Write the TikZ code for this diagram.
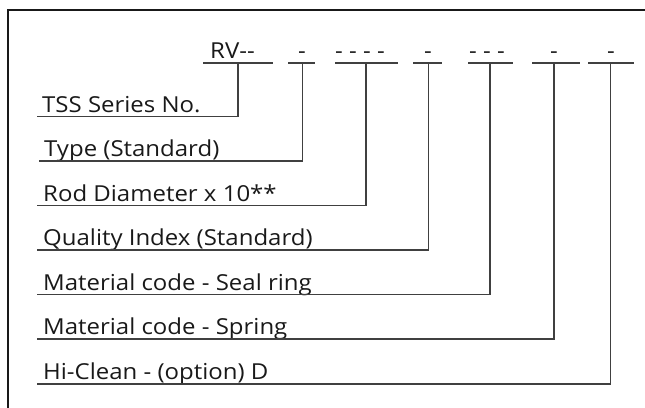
\documentclass[tikz,border=0pt]{standalone}
\usepackage{fontspec}
\setmainfont{Open Sans}[FakeStretch=1.09]
\begin{document}
\begin{tikzpicture}[x=1pt,y=-1pt,
  frame/.style={line width=2.4pt,draw=black!90},
  thin/.style={line width=1.1pt,draw=black!75},
  lab/.style={anchor=base west,inner sep=0pt,font=\fontsize{22}{24}\selectfont,text=black!90},
  code/.style={anchor=base west,inner sep=0pt,font=\fontsize{22}{24}\selectfont,text=black!90},
  codec/.style={code,anchor=base}]
\useasboundingbox (0,0) rectangle (645,407);
\draw[frame] (646,10) -| (8,408);
% code segments
\coordinate (s1a) at (203,63); \coordinate (s1b) at (273,63);
\coordinate (s2a) at (288,63); \coordinate (s2b) at (315,63);
\coordinate (s3a) at (335,63); \coordinate (s3b) at (398,63);
\coordinate (s4a) at (413,63); \coordinate (s4b) at (442,63);
\coordinate (s5a) at (468,63); \coordinate (s5b) at (513,63);
\coordinate (s6a) at (532,63); \coordinate (s6b) at (580,63);
\coordinate (s7a) at (588,63); \coordinate (s7b) at (634,63);
\foreach \i in {1,...,7} \draw[thin] (s\i a) -- (s\i b);
\node[code] (k1) at (210,58) {RV{-}{-}};
\node[codec] (k2) at (302,58) {-};
\node[code] (k3) at (335,58) {- - - -};
\node[codec] (k4) at (428,58) {-};
\node[code] (k5) at (469,58) {- - -};
\node[codec] (k6) at (554,58) {-};
\node[codec] (k7) at (611,58) {-};
% drop points
\coordinate (d1) at (238,63);
\coordinate (d2) at (302.5,63);
\coordinate (d3) at (366,63);
\coordinate (d4) at (428.5,63);
\coordinate (d5) at (490,63);
\coordinate (d6) at (554,63);
\coordinate (d7) at (610.5,63);
% labels
\node[lab] (l1) at (42,112) {TSS Series No.};
\node[lab] (l2) at (44,156.5) {Type (Standard)};
\node[lab] (l3) at (43,201) {Rod Diameter x 10**};
\node[lab] (l4) at (43,245.5) {Quality Index (Standard)};
\node[lab] (l5) at (43,290) {Material code - Seal ring};
\node[lab] (l6) at (43,334.5) {Material code - Spring};
\node[lab] (l7) at (43,379.5) {Hi-Clean - (option) D};
\coordinate (e1) at (37,116.5);
\coordinate (e2) at (39,161);
\coordinate (e3) at (37,205.5);
\coordinate (e4) at (37,250);
\coordinate (e5) at (37,294.5);
\coordinate (e6) at (37,339);
\coordinate (e7) at (37,384);
\foreach \i in {1,...,7} \draw[thin] (d\i) |- (e\i);
\end{tikzpicture}
\end{document}
